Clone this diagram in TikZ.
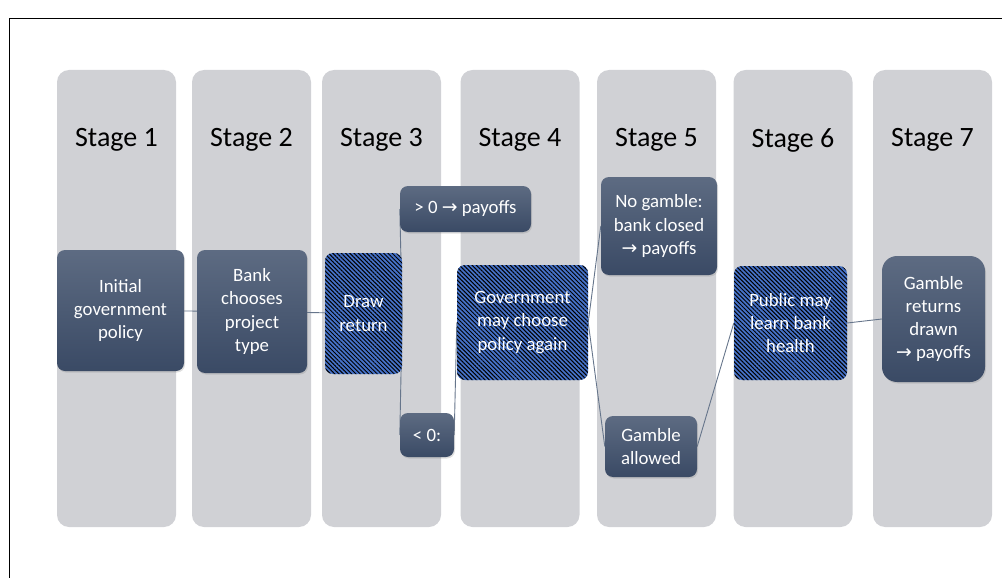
\documentclass[tikz,border=0pt]{standalone}
\usepackage{fontspec}
\setmainfont{Carlito}
\newfontfamily\arrowfont{DejaVu Sans}
\usetikzlibrary{patterns.meta,shadows}

\definecolor{colgray}{HTML}{D0D1D5}
\definecolor{boxtop}{HTML}{5D6B82}
\definecolor{boxbot}{HTML}{3A4A65}
\definecolor{hatchblue}{HTML}{4672C8}
\definecolor{linkgray}{HTML}{66758B}
\newcommand{\toarrow}{{\arrowfont →}}

\pgfdeclarelayer{bg}
\pgfdeclarelayer{links}
\pgfsetlayers{bg,links,main}

\begin{document}
\begin{tikzpicture}[x=1pt,y=-1pt,
    col/.style={fill=colgray,rounded corners=12pt,minimum width=119pt,minimum height=457pt,inner sep=0pt},
    stagelbl/.style={font=\fontsize{28}{34}\selectfont},
    txt/.style={text=white,align=center,inner sep=0pt,font=\fontsize{18.8}{23.3}\selectfont},
    box/.style={txt,rounded corners=8pt,top color=boxtop,bottom color=boxbot,
        drop shadow={shadow xshift=1pt,shadow yshift=-1.5pt,opacity=0.25}},
    hatch/.style={txt,rounded corners=8pt,fill=hatchblue,
        postaction={pattern={Lines[angle=-45,distance=3pt,line width=1pt]},pattern color=black}},
    link/.style={draw=linkgray,line width=0.9pt}]
    \useasboundingbox (0,0) rectangle (1002,578);
    \draw[line width=0.8pt] (9,578) -- (9,18) -- (1002,18);

    \begin{pgfonlayer}{bg}
        \node[col] (c1) at (116.5,298.5) {};
        \node[col] (c2) at (251.5,298.5) {};
        \node[col] (c3) at (381.5,298.5) {};
        \node[col] (c4) at (520,298.5) {};
        \node[col] (c5) at (656.5,298.5) {};
        \node[col] (c6) at (793,298.5) {};
        \node[col] (c7) at (932.5,298.5) {};
    \end{pgfonlayer}

    \node[stagelbl] (s1) at (116.5,140) {Stage 1};
    \node[stagelbl] (s2) at (251.5,140) {Stage 2};
    \node[stagelbl] (s3) at (381.5,140) {Stage 3};
    \node[stagelbl] (s4) at (520,140) {Stage 4};
    \node[stagelbl] (s5) at (656.5,140) {Stage 5};
    \node[stagelbl] (s6) at (793,140) {Stage 6};
    \node[stagelbl] (s7) at (932.5,140) {Stage 7};

    \node[box,minimum width=127pt,minimum height=121pt] (init) at (120.5,310.5) {Initial\\government\\policy};
    \node[box,minimum width=110pt,minimum height=123pt] (bank) at (252,311.5) {Bank\\chooses\\project\\type};
    \node[hatch,minimum width=77pt,minimum height=121pt] (ret) at (363.5,313.5) {Draw\\return};
    \node[box,minimum width=131pt,minimum height=46pt] (pos) at (465.5,209) {> 0 \toarrow{} payoffs};
    \node[box,minimum width=54pt,minimum height=44pt] (neg) at (427,435) {< 0:};
    \node[hatch,minimum width=131pt,minimum height=115pt] (gov) at (522.5,322.5) {Government\\may choose\\policy again};
    \node[box,minimum width=116pt,minimum height=98pt] (nogam) at (659,226) {No gamble:\\bank closed\\\toarrow{} payoffs};
    \node[box,minimum width=92pt,minimum height=61pt] (gam) at (651,446.5) {Gamble\\allowed};
    \node[hatch,minimum width=113pt,minimum height=114pt] (pub) at (790.5,323) {Public may\\learn bank\\health};
    \node[box,rounded corners=15pt,minimum width=103pt,minimum height=126pt] (gret) at (933.5,319) {Gamble\\returns\\drawn\\\toarrow{} payoffs};

    \begin{pgfonlayer}{links}
        \draw[link] (init) -- (bank);
        \draw[link] (bank) -- (ret);
        \draw[link] (ret.east) -- (pos.west);
        \draw[link] (ret.east) -- (neg.west);
        \draw[link] (neg.east) -- (gov.west);
        \draw[link] (gov.east) -- (nogam.west);
        \draw[link] (gov.east) -- (gam.west);
        \draw[link] (gam.east) -- (pub.west);
        \draw[link] (pub.east) -- (gret.west);
    \end{pgfonlayer}
\end{tikzpicture}
\end{document}
